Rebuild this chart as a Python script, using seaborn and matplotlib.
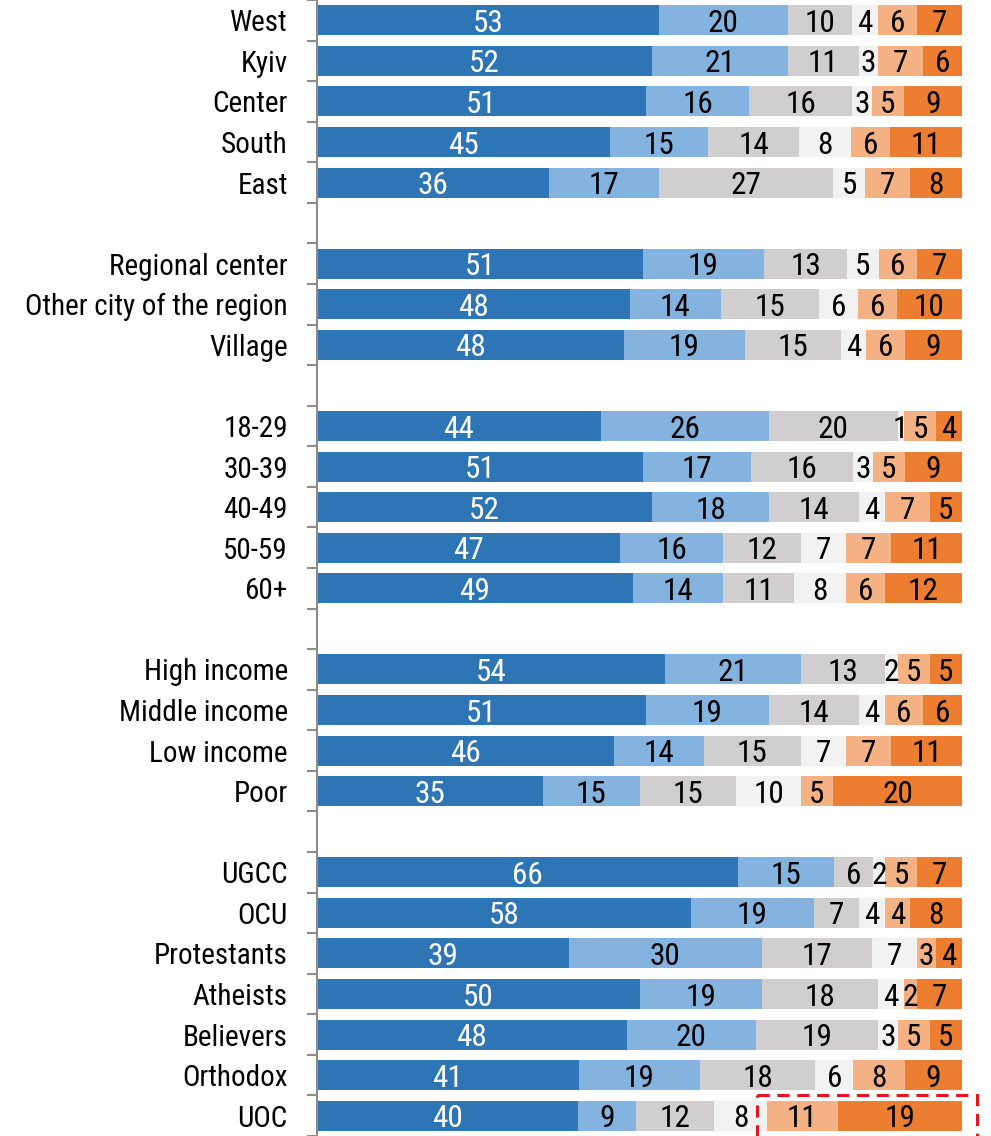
import numpy as np
import pandas as pd
import seaborn as sns
import matplotlib.pyplot as plt
from matplotlib.patches import Rectangle
from matplotlib import font_manager

# Row labels, grouped into blocks separated by an empty row
block_regions = ["West", "Kyiv", "Center", "South", "East"]
block_settlement = ["Regional center", "Other city of the region", "Village"]
block_age = ["18-29", "30-39", "40-49", "50-59", "60+"]
block_income = ["High income", "Middle income", "Low income", "Poor"]
block_church = ["UGCC", "OCU", "Protestants", "Atheists", "Believers", "Orthodox", "UOC"]

# Answer shares (%) for each row, left to right in the stack
share_1 = [53, 52, 51, 45, 36, 51, 48, 48, 44, 51, 52, 47, 49,
           54, 51, 46, 35, 66, 58, 39, 50, 48, 41, 40]
share_2 = [20, 21, 16, 15, 17, 19, 14, 19, 26, 17, 18, 16, 14,
           21, 19, 14, 15, 15, 19, 30, 19, 20, 19, 9]
share_3 = [10, 11, 16, 14, 27, 13, 15, 15, 20, 16, 14, 12, 11,
           13, 14, 15, 15, 6, 7, 17, 18, 19, 18, 12]
share_4 = [4, 3, 3, 8, 5, 5, 6, 4, 1, 3, 4, 7, 8,
           2, 4, 7, 10, 2, 4, 7, 4, 3, 6, 8]
share_5 = [6, 7, 5, 6, 7, 6, 6, 6, 5, 5, 7, 7, 6,
           5, 6, 7, 5, 5, 4, 3, 2, 5, 8, 11]
share_6 = [7, 6, 9, 11, 8, 7, 10, 9, 4, 9, 5, 11, 12,
           5, 6, 11, 20, 7, 8, 4, 7, 5, 9, 19]

colors = ["#2E75B6", "#84B3DF", "#D0CECE", "#F2F2F2", "#F4B183", "#ED7D31"]
text_colors = ["white", "black", "black", "black", "black", "black"]

# Assign vertical positions, leaving a blank slot between blocks
blocks = [block_regions, block_settlement, block_age, block_income, block_church]
labels, positions = [], []
pos = 0
for b in blocks:
    for name in b:
        labels.append(name)
        positions.append(pos)
        pos += 1
    pos += 1
last_slot = positions[-1]

shares = np.array([share_1, share_2, share_3, share_4, share_5, share_6], dtype=float)
norm = shares / shares.sum(axis=0) * 100.0  # 100% stacked
right = np.cumsum(norm, axis=0)
left = right - norm

sns.set_theme(style="white")

# Prefer a condensed face when one is installed
installed = {f.name for f in font_manager.fontManager.ttflist}
narrow = [f for f in ["Liberation Sans Narrow", "Arial Narrow", "Roboto Condensed"] if f in installed]
if narrow:
    plt.rcParams["font.family"] = [narrow[0], "DejaVu Sans"]
    num_size, lab_size = 22.5, 21
else:
    plt.rcParams["font.family"] = ["Liberation Sans", "DejaVu Sans"]
    num_size, lab_size = 20.5, 19.5

fig = plt.figure(figsize=(9.91, 11.36), dpi=100)
ax = fig.add_axes([317 / 991, 0, (962 - 317) / 991, 1])

# Draw cumulative bars from the outermost segment inward so each overlays the next
for k in range(5, -1, -1):
    df = pd.DataFrame({"value": right[k], "pos": positions})
    sns.barplot(data=df, x="value", y="pos", orient="h", native_scale=True,
                color=colors[k], saturation=1, width=0.74, linewidth=0,
                errorbar=None, ax=ax)

# Segment value labels
for k in range(6):
    for i, p in enumerate(positions):
        cx = (left[k, i] + right[k, i]) / 2
        ax.text(cx, p, f"{int(shares[k, i])}", ha="center", va="center_baseline",
                fontsize=num_size, color=text_colors[k])

# Highlight the orange segments of the last row
last = len(positions) - 1
x0 = left[4, last] - 1.5
rect = Rectangle((x0, positions[last] - 0.5), 102.3 - x0, 1.2,
                 fill=False, edgecolor="#E8141B", linewidth=2.2,
                 linestyle=(0, (4, 2.5)), clip_on=False, zorder=5)
ax.add_patch(rect)

ax.set_xlim(0, 100)
ax.set_ylim(last_slot + 0.5, -0.5)
ax.set_xlabel("")
ax.set_ylabel("")
ax.set_xticks([])

# Tick marks at row boundaries, labels at row centres
ax.set_yticks(np.arange(-0.5, last_slot + 1, 1))
ax.set_yticklabels([])
ax.set_yticks(positions, minor=True)
ax.set_yticklabels(labels, minor=True, fontsize=lab_size, color="black")
ax.tick_params(axis="y", which="major", length=7.5, width=1.5, color="#8C8C8C", left=True)
ax.tick_params(axis="y", which="minor", length=0, pad=21)

for s in ["top", "right", "bottom"]:
    ax.spines[s].set_visible(False)
ax.spines["left"].set_color("#8C8C8C")
ax.spines["left"].set_linewidth(1.5)

fig.savefig("out.png", dpi=100)
